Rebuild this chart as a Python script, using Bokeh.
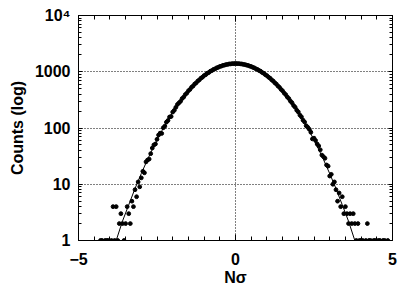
import numpy as np
from bokeh.plotting import figure
from bokeh.models import FixedTicker, LinearAxis, LogAxis
from bokeh.embed import file_html
from bokeh.resources import INLINE

# Histogram bin centres (Nσ) and counts
bin_x = [
    -4.30, -4.25, -4.20, -4.15, -4.10, -4.05, -4.00, -3.95, -3.90, -3.85,
    -3.80, -3.75, -3.70, -3.65, -3.60, -3.55, -3.50, -3.45, -3.40, -3.35,
    -3.30, -3.25, -3.20, -3.15, -3.10, -3.05, -3.00, -2.95, -2.90, -2.85,
    -2.80, -2.75, -2.70, -2.65, -2.60, -2.55, -2.50, -2.45, -2.40, -2.35,
    -2.30, -2.25, -2.20, -2.15, -2.10, -2.05, -2.00, -1.95, -1.90, -1.85,
    -1.80, -1.75, -1.70, -1.65, -1.60, -1.55, -1.50, -1.45, -1.40, -1.35,
    -1.30, -1.25, -1.20, -1.15, -1.10, -1.05, -1.00, -0.95, -0.90, -0.85,
    -0.80, -0.75, -0.70, -0.65, -0.60, -0.55, -0.50, -0.45, -0.40, -0.35,
    -0.30, -0.25, -0.20, -0.15, -0.10, -0.05, 0.00, 0.05, 0.10, 0.15,
    0.20, 0.25, 0.30, 0.35, 0.40, 0.45, 0.50, 0.55, 0.60, 0.65,
    0.70, 0.75, 0.80, 0.85, 0.90, 0.95, 1.00, 1.05, 1.10, 1.15,
    1.20, 1.25, 1.30, 1.35, 1.40, 1.45, 1.50, 1.55, 1.60, 1.65,
    1.70, 1.75, 1.80, 1.85, 1.90, 1.95, 2.00, 2.05, 2.10, 2.15,
    2.20, 2.25, 2.30, 2.35, 2.40, 2.45, 2.50, 2.55, 2.60, 2.65,
    2.70, 2.75, 2.80, 2.85, 2.90, 2.95, 3.00, 3.05, 3.10, 3.15,
    3.20, 3.25, 3.30, 3.35, 3.40, 3.45, 3.50, 3.55, 3.60, 3.65,
    3.70, 3.75, 3.80, 3.85, 3.90, 3.95, 4.00, 4.05, 4.10, 4.15,
    4.20, 4.25, 4.30, 4.35, 4.40, 4.45, 4.50, 4.55, 4.60, 4.65,
    4.70, 4.75, 4.80, 4.85, 4.90,
]
counts = [
    1, 1, 0, 1, 1, 1, 0, 1, 4, 1,
    4, 1, 2, 3, 2, 1, 2, 4, 3, 2,
    5, 4, 8, 6, 11, 9, 13, 17, 16, 25,
    27, 28, 35, 44, 50, 52, 63, 75, 81, 80,
    101, 108, 127, 136, 157, 160, 192, 206, 233, 262,
    280, 298, 334, 355, 393, 417, 459, 485, 530, 558,
    606, 636, 686, 718, 770, 802, 855, 887, 940, 969,
    1023, 1050, 1102, 1126, 1175, 1196, 1242, 1258, 1298, 1310,
    1344, 1350, 1378, 1377, 1398, 1392, 1405, 1394, 1398, 1380,
    1376, 1352, 1342, 1312, 1296, 1260, 1240, 1198, 1173, 1128,
    1100, 1052, 1021, 970, 938, 888, 853, 803, 769, 719,
    685, 637, 605, 559, 529, 486, 458, 418, 392, 356,
    333, 300, 281, 251, 234, 207, 193, 170, 158, 138,
    128, 110, 103, 95, 84, 64, 66, 60, 52, 48,
    41, 33, 31, 29, 22, 21, 14, 15, 10, 11,
    8, 5, 7, 4, 6, 3, 4, 3, 2, 3,
    2, 3, 2, 1, 2, 1, 1, 1, 0, 1,
    2, 1, 1, 0, 1, 1, 0, 1, 1, 0,
    1, 1, 0, 1, 0,
]

# Fitted curve, read at steps of 0.2 σ
fit_x = [-3.8, -3.6, -3.4, -3.2, -3.0, -2.8, -2.6, -2.4, -2.2, -2.0,
         -1.8, -1.6, -1.4, -1.2, -1.0, -0.8, -0.6, -0.4, -0.2, 0.0,
         0.2, 0.4, 0.6, 0.8, 1.0, 1.2, 1.4, 1.6, 1.8, 2.0,
         2.2, 2.4, 2.6, 2.8, 3.0, 3.2, 3.4, 3.6, 3.8]
fit_y = [1.0, 2.2, 4.3, 8.4, 15.5, 27.7, 47.6, 78.6, 124.5, 189.5,
         277, 389, 525, 681, 849, 1017, 1169, 1292, 1372, 1400,
         1372, 1292, 1169, 1017, 849, 681, 525, 389, 277, 189.5,
         124.5, 78.6, 47.6, 27.7, 15.5, 8.4, 4.3, 2.2, 1.0]

x_ticks = [-5, 0, 5]
x_minor = [-4.5, -4, -3.5, -3, -2.5, -2, -1.5, -1, -0.5,
           0.5, 1, 1.5, 2, 2.5, 3, 3.5, 4, 4.5]
y_ticks = [1, 10, 100, 1000, 10000]
y_minor = [2, 3, 4, 5, 6, 7, 8, 9, 20, 30, 40, 50, 60, 70, 80, 90,
           200, 300, 400, 500, 600, 700, 800, 900,
           2000, 3000, 4000, 5000, 6000, 7000, 8000, 9000]
y_labels = {1: "1", 10: "10", 100: "100", 1000: "1000", 10000: "10\u2074"}
x_labels = {-5: "\u22125", 0: "0", 5: "5"}
x_label = "N\u03c3"
y_label = "Counts (log)"

FONT = "Liberation Sans"

p = figure(width=400, height=290, x_range=(-5, 5), y_range=(1, 10000),
           y_axis_type="log", output_backend="svg", toolbar_location=None,
           min_border_left=78, min_border_right=8, min_border_top=15,
           min_border_bottom=50)
p.background_fill_color = "white"
p.border_fill_color = "white"
p.outline_line_color = "black"
p.outline_line_width = 1

# Bottom axis
xa = p.xaxis[0]
xa.ticker = FixedTicker(ticks=x_ticks, minor_ticks=x_minor)
xa.major_label_overrides = x_labels
xa.major_tick_in = 6
xa.major_tick_out = 0
xa.minor_tick_in = 4
xa.minor_tick_out = 0
xa.major_label_standoff = 12
xa.major_label_text_font = FONT
xa.major_label_text_font_style = "bold"
xa.major_label_text_font_size = "16px"
xa.major_label_text_color = "black"
xa.axis_line_color = "black"
xa.major_tick_line_color = "black"
xa.minor_tick_line_color = "black"
xa.axis_label = x_label
xa.axis_label_text_font = FONT
xa.axis_label_text_font_style = "bold"
xa.axis_label_text_font_size = "16px"
xa.axis_label_text_color = "black"
xa.axis_label_standoff = 1

# Left axis
ya = p.yaxis[0]
ya.ticker = FixedTicker(ticks=y_ticks, minor_ticks=y_minor)
ya.major_label_overrides = y_labels
ya.major_tick_in = 4
ya.major_tick_out = 0
ya.minor_tick_in = 3
ya.minor_tick_out = 0
ya.major_label_standoff = 8
ya.major_label_text_font = FONT
ya.major_label_text_font_style = "bold"
ya.major_label_text_font_size = "16px"
ya.major_label_text_color = "black"
ya.axis_label = y_label
ya.axis_label_text_font = FONT
ya.axis_label_text_font_style = "bold"
ya.axis_label_text_font_size = "16px"
ya.axis_label_text_color = "black"
ya.axis_label_standoff = 6
ya.axis_line_color = "black"
ya.major_tick_line_color = "black"
ya.minor_tick_line_color = "black"

# Mirrored axes (ticks only, no labels)
ra = LogAxis(ticker=FixedTicker(ticks=y_ticks, minor_ticks=y_minor),
             major_label_overrides={t: "" for t in y_ticks},
             major_label_text_font_size="1px", major_label_standoff=0,
             major_tick_in=4, major_tick_out=0, minor_tick_in=3, minor_tick_out=0,
             axis_line_color="black")
p.add_layout(ra, "right")
ta = LinearAxis(ticker=FixedTicker(ticks=x_ticks, minor_ticks=x_minor),
                major_label_overrides={t: "" for t in x_ticks},
                major_label_text_font_size="1px", major_label_standoff=0,
                major_tick_in=6, major_tick_out=0, minor_tick_in=4, minor_tick_out=0,
                axis_line_color="black")
p.add_layout(ta, "above")

# Grid: dotted lines at decades and at zero
p.xgrid.ticker = FixedTicker(ticks=[0])
p.ygrid.ticker = FixedTicker(ticks=[10, 100, 1000])
for g in (p.xgrid[0], p.ygrid[0]):
    g.grid_line_color = "black"
    g.grid_line_dash = "1 2"
    g.grid_line_width = 1
    g.grid_line_alpha = 1.0

# Data
bx = np.array(bin_x)
bc = np.array(counts, dtype=float)
mask = bc > 0
p.scatter(bx[mask], bc[mask], size=3.8, color="black", marker="circle")
p.line(fit_x, fit_y, line_color="black", line_width=1)

open("out.html", "w").write(file_html(p, INLINE))
